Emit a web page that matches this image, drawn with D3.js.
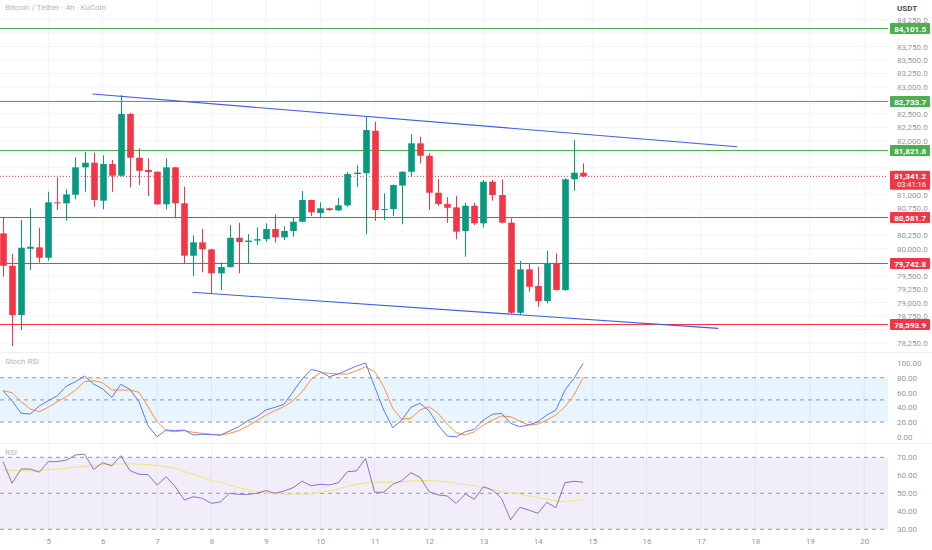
<!DOCTYPE html>
<html><head><meta charset="utf-8">
<script src="https://cdn.jsdelivr.net/npm/d3@7"></script>
<style>html,body{margin:0;padding:0;background:#fff;}svg{display:block;font-family:Roboto,"Noto Sans",sans-serif;}</style>
</head><body>
<svg id="c" width="932" height="550"></svg>
<script>
// ---- data ----
const candleIndex = d3.range(-5, 60); // 4h bars, 0 = day 5 00:00
const opens  = [80283,79683,78768,79998,80024,79831,80859,80840,81000,81508,81594,80889,81570,81353,82497,81686,81460,81427,80822,81508,80841,79869,80117,79987,79542,79659,80202,80123,80150,80175,80364,80210,80327,80499,80902,80660,80748,80710,80803,81384,81400,82187,80716,80735,81170,81427,81953,81723,81037,80827,80765,80327,80796,80469,81241,80994,80481,78811,79616,79306,79028,79715,79232,81286,81408];
const highs  = [80591,79900,80531,80748,80388,81056,81323,81100,81694,81798,81779,81731,81644,82849,82521,81861,81675,81430,81675,81515,81149,80247,80364,80000,79746,80438,80481,80271,80395,80469,80636,80419,80581,81069,80910,80859,80760,80939,81421,81551,82447,82354,81026,81190,81435,82120,82076,81768,81291,80952,80976,80852,80852,81273,81273,81286,80562,79776,79715,79664,79961,79913,81305,82015,81582];
const lows   = [79478,78193,78490,79603,79739,79776,80716,80518,80915,81056,80777,80729,81056,81340,81137,81180,80976,80815,80729,80562,79715,79492,79560,79171,79232,79650,79542,79727,80067,80128,80110,80160,80221,80490,80605,80562,80700,80697,80777,81149,80265,80518,80531,80605,80451,81334,81582,80716,80790,80481,80173,79850,80438,80395,80889,80470,78787,78768,79201,78922,78985,79225,79220,81074,81330];
const closes = [79682,78768,80017,80035,79831,80859,80840,81007,81508,81594,80902,81570,81353,82497,81686,81445,81420,80822,81508,80841,79869,80117,79987,79542,79659,80202,80123,80150,80175,80364,80210,80327,80499,80902,80673,80748,80716,80803,81384,81410,82200,80716,80735,81180,81427,81953,81723,81037,80827,80759,80314,80796,80469,81241,80994,80481,78811,79616,79293,79028,79715,79232,81286,81408,81341.2];

const stochK = [62.5,49,31.8,30.9,41.7,49,55.7,68.8,74.7,82.4,71.5,64.8,53.5,71.1,64.3,47.6,15,0.1,9.2,8.3,9.2,2.4,3.4,2.9,2.4,7.9,13.7,21.8,27.2,36.3,40,44,61.1,78.3,91.4,88.2,81.4,85.1,90.5,95.9,100,67.9,36.3,12.3,22.8,40,45.4,35.4,16,1.1,0,6.9,10.2,22.8,30.5,31.8,18.3,13.7,16,20.5,29.5,36.3,63.4,79.3,99.6];
const stochD = [62.5,59.8,47.6,37.7,34,40,47.6,54.3,63.4,74.7,76,73.3,63.4,63.4,63.4,60.3,40.8,20.5,8.3,6.9,8.3,6.1,4.7,3.4,2.4,4.7,8.3,14.6,21.8,29.5,35.4,40.8,49,61.1,77.9,86.9,86,85.1,85.1,89.6,95,88.2,67.9,38.6,23.7,25.1,36.3,40.8,31.8,17.3,5.6,2.4,6.9,16,22.8,28.2,27.2,21.4,16,17.3,22.8,29.5,40.8,56.6,80.6];
const rsi    = [67.6,55.6,63.5,63.5,61.7,67.6,67.6,68.5,71.3,71.7,63.3,67,65.2,70.9,62.6,60.6,60.4,54.6,59.2,53.7,46.3,48.1,47.2,44.4,45.3,50,49.4,49.4,50,51.5,50,51.3,53.1,56.7,54.2,55,54.6,55.9,62,62.4,69.4,50.6,50.6,55,57,61.4,58.9,50.9,49.1,48.5,44.4,49.6,46.7,53.7,51.8,47.2,35.2,42.2,40.7,38.9,45,42,55.9,56.7,56.1];
const rsiMA  = [62.9,62.7,62.6,62.6,62.6,63,63.5,63.9,64.5,65,65.5,65.9,66.1,66.3,66.3,66.2,65.9,65.5,64.8,63.9,62,60.5,59,57.1,56,54.6,53.2,52,51,50.1,49.8,49.6,49.6,49.6,49.5,50.4,51.3,52.5,53.8,55,55.8,56.1,56.1,56.1,56.4,56.8,57,57,56.8,56.3,55.6,55,54.2,53,51.9,51.2,50.3,49.6,48.6,47.8,46.8,45.8,45.4,46,46.7];

const levelPrices = [84101.5, 82733.7, 81821.8, 80581.7, 79742.8, 78593.9];
const levelKinds  = ["sup","sup","sup","res","res","res"];
const channelUpper = [[4.9, 82868], [76, 81891]];
const channelLower = [[15.9, 79190], [73.9, 78521]];
const lastPrice = 81341.2;
const countdown = "03:41:16";

const dayIndex  = [0,6,12,18,24,30,36,42,48,54,60,66,72,78,84,90];
const dayLabels = ["5","6","7","8","9","10","11","12","13","14","15","16","17","18","19","20"];
const priceTicks = d3.range(78250, 84251, 250);
const stochTicks = [0,20,40,60,80,100];
const rsiTicks = [30,40,50,60,70];

// ---- layout ----
const svg = d3.select("#c");
const plotR = 888;
const GREEN = "#089981", RED = "#f23645", LGREEN = "#4caf50";
const x = d3.scaleLinear().domain([0, 90]).range([48.3, 48.3 + 90*9.065]);
const y = d3.scaleLinear().domain([78250, 84250]).range([343, 19.5]);
const ys = d3.scaleLinear().domain([0, 100]).range([436.8, 363]);
const yr = d3.scaleLinear().domain([30, 70]).range([529.3, 457.3]);
const bars = candleIndex.map((k,i)=>({k, o:opens[i], h:highs[i], l:lows[i], c:closes[i], sk:stochK[i], sd:stochD[i], r:rsi[i], m:rsiMA[i]}));

const clip = svg.append("defs").append("clipPath").attr("id","pc");
clip.append("rect").attr("x",0).attr("y",0).attr("width",plotR).attr("height",533);

// grid
const grid = svg.append("g").attr("clip-path","url(#pc)");
grid.selectAll(".vg").data(dayIndex).join("line")
  .attr("x1",d=>x(d)).attr("x2",d=>x(d)).attr("y1",0).attr("y2",533)
  .attr("stroke","#f0f3fa").attr("stroke-width",1);
grid.selectAll(".hg").data(priceTicks).join("line")
  .attr("x1",0).attr("x2",plotR).attr("y1",d=>y(d)).attr("y2",d=>y(d))
  .attr("stroke","#f3f5fa").attr("stroke-width",1);

// pane separators
svg.append("line").attr("x1",0).attr("x2",932).attr("y1",352.5).attr("y2",352.5).attr("stroke","#eef0f4");
svg.append("line").attr("x1",0).attr("x2",932).attr("y1",443.5).attr("y2",443.5).attr("stroke","#eef0f4");

// Stoch band
svg.append("rect").attr("x",0).attr("width",plotR).attr("y",ys(80)).attr("height",ys(20)-ys(80)).attr("fill","rgba(33,150,243,0.1)");
svg.selectAll(".sd").data([80,50,20]).join("line")
  .attr("x1",0).attr("x2",plotR).attr("y1",d=>ys(d)).attr("y2",d=>ys(d))
  .attr("stroke","#9598a1").attr("stroke-dasharray","4,4").attr("stroke-width",1);
// RSI band
svg.append("rect").attr("x",0).attr("width",plotR).attr("y",yr(70)).attr("height",yr(30)-yr(70)).attr("fill","rgba(126,87,194,0.1)");
svg.selectAll(".rd").data([70,50,30]).join("line")
  .attr("x1",0).attr("x2",plotR).attr("y1",d=>yr(d)).attr("y2",d=>yr(d))
  .attr("stroke","#9598a1").attr("stroke-dasharray","4,4").attr("stroke-width",1);

// horizontal levels
const lv = svg.append("g").attr("clip-path","url(#pc)");
lv.selectAll("line").data(levelPrices).join("line")
  .attr("x1",0).attr("x2",plotR).attr("y1",d=>Math.round(y(d))+0.5).attr("y2",d=>Math.round(y(d))+0.5)
  .attr("stroke",(d,i)=>levelKinds[i]==="sup"?LGREEN:RED).attr("stroke-width",1);

// current price dotted line
svg.append("line").attr("x1",0).attr("x2",plotR).attr("y1",y(lastPrice)).attr("y2",y(lastPrice))
  .attr("stroke",RED).attr("stroke-dasharray","1,2").attr("stroke-width",1);

// channel lines
const chan = svg.append("g").attr("clip-path","url(#pc)");
[channelUpper, channelLower].forEach(seg=>{
  chan.append("line").attr("x1",x(seg[0][0])).attr("y1",y(seg[0][1])).attr("x2",x(seg[1][0])).attr("y2",y(seg[1][1]))
   .attr("stroke","#3f5fe0").attr("stroke-width",1.1);
});

// candles
const cg = svg.append("g").attr("clip-path","url(#pc)");
const bw = 6.6;
cg.selectAll(".wk").data(bars).join("line")
  .attr("x1",d=>Math.round(x(d.k))+0.5).attr("x2",d=>Math.round(x(d.k))+0.5)
  .attr("y1",d=>y(d.h)).attr("y2",d=>y(d.l))
  .attr("stroke",d=>d.c>=d.o?GREEN:RED).attr("stroke-width",1);
cg.selectAll(".bd").data(bars).join("rect")
  .attr("x",d=>Math.round(x(d.k))+0.5-bw/2).attr("width",bw)
  .attr("y",d=>y(Math.max(d.o,d.c))).attr("height",d=>Math.max(1,Math.abs(y(d.o)-y(d.c))))
  .attr("fill",d=>d.c>=d.o?GREEN:RED);

// oscillator lines
const ln = (sy,key)=>d3.line().x(d=>x(d.k)).y(d=>sy(d[key]));
const og = svg.append("g").attr("clip-path","url(#pc)");
og.append("path").datum(bars).attr("d",ln(ys,"sd")).attr("fill","none").attr("stroke","#ff8f3a").attr("stroke-width",1);
og.append("path").datum(bars).attr("d",ln(ys,"sk")).attr("fill","none").attr("stroke","#5b7cf0").attr("stroke-width",1);
og.append("path").datum(bars).attr("d",ln(yr,"m")).attr("fill","none").attr("stroke","#f3e48a").attr("stroke-width",1.2);
og.append("path").datum(bars).attr("d",ln(yr,"r")).attr("fill","none").attr("stroke","#8a72c8").attr("stroke-width",1);

// axes (price tick labels hidden where the level boxes cover them)
const ly = y(lastPrice);
const covered = v => levelPrices.some(p=>Math.abs(y(p)-y(v))<7.5) || (y(v)>ly-10 && y(v)<ly+18);
const shownTicks = priceTicks.filter(v=>!covered(v));
const axisStyle = g=>{ g.select(".domain").remove(); g.selectAll("line").remove();
  g.selectAll("text").attr("fill","#9598a1").style("font-size","8px").style("font-family","Roboto,sans-serif"); };
svg.append("g").attr("transform",`translate(${plotR+3},0)`)
  .call(d3.axisRight(y).tickValues(shownTicks).tickFormat(d3.format(",.1f")).tickSize(0).tickPadding(6)).call(axisStyle);
svg.append("g").attr("transform",`translate(${plotR+3},0)`)
  .call(d3.axisRight(ys).tickValues(stochTicks).tickFormat(d3.format(".2f")).tickSize(0).tickPadding(6)).call(axisStyle);
svg.append("g").attr("transform",`translate(${plotR+3},0)`)
  .call(d3.axisRight(yr).tickValues(rsiTicks).tickFormat(d3.format(".2f")).tickSize(0).tickPadding(6)).call(axisStyle);
svg.append("g").attr("transform",`translate(0,536)`)
  .call(d3.axisBottom(x).tickValues(dayIndex).tickFormat((d,i)=>dayLabels[i]).tickSize(0).tickPadding(2)).call(axisStyle);

// level labels
const lab = svg.append("g");
levelPrices.forEach((p,i)=>{
  const yy = Math.round(y(p))+0.5;
  const col = levelKinds[i]==="sup"?LGREEN:RED;
  lab.append("rect").attr("x",plotR+2).attr("y",yy-5.5).attr("width",40).attr("height",11).attr("rx",1).attr("fill",col);
  lab.append("text").attr("x",plotR+38).attr("y",yy+3).attr("text-anchor","end").attr("fill","#fff")
    .style("font-size","8px").style("font-weight","bold").text(d3.format(",.1f")(p));
});
// last price label
lab.append("rect").attr("x",plotR+2).attr("y",ly-5.5).attr("width",40).attr("height",19).attr("rx",1).attr("fill",RED);
lab.append("text").attr("x",plotR+38).attr("y",ly+3).attr("text-anchor","end").attr("fill","#fff")
  .style("font-size","8px").style("font-weight","bold").text(d3.format(",.1f")(lastPrice));
lab.append("text").attr("x",plotR+38).attr("y",ly+11).attr("text-anchor","end").attr("fill","#fff")
  .style("font-size","7.5px").text(countdown);

// titles
svg.append("text").attr("x",5).attr("y",10).attr("fill","#b2b5be").style("font-size","8px").text("Bitcoin / Tether · 4h · KuCoin");
svg.append("text").attr("x",897).attr("y",11).attr("fill","#4a4e59").style("font-size","8px").style("font-weight","bold").text("USDT");
svg.append("text").attr("x",5).attr("y",364).attr("fill","#b2b5be").style("font-size","8px").text("Stoch RSI");
svg.append("text").attr("x",5).attr("y",455).attr("fill","#b2b5be").style("font-size","8px").text("RSI");
</script>
</body></html>
